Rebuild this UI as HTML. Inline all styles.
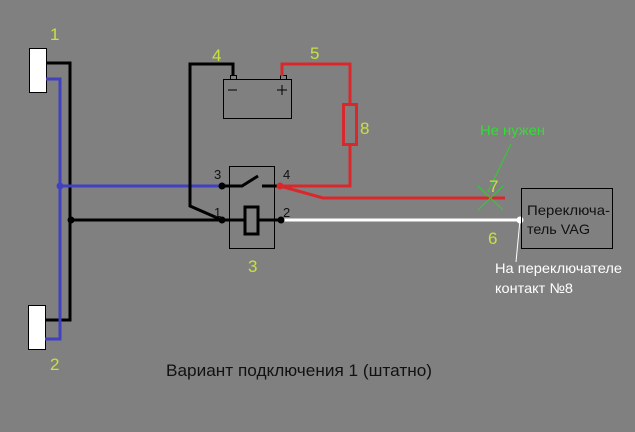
<!DOCTYPE html>
<html><head><meta charset="utf-8"><style>
html,body{margin:0;padding:0;background:#808080;}
svg{display:block;font-family:"Liberation Sans",sans-serif;}
</style></head><body>
<svg width="635" height="432" viewBox="0 0 635 432" xmlns="http://www.w3.org/2000/svg">
<rect width="635" height="432" fill="#808080"/>
<rect x="29.5" y="48.5" width="17" height="44" fill="#fff" stroke="#000"/>
<rect x="28.5" y="305.5" width="17" height="44" fill="#fff" stroke="#000"/>
<polyline points="46,63 70,63 70,320 45,320" fill="none" stroke="#000" stroke-width="3"/>
<polyline points="46,79 60,79 60,339 45,339" fill="none" stroke="#4040c0" stroke-width="3"/>
<line x1="60" y1="186" x2="222" y2="186" stroke="#4040c0" stroke-width="3"/>
<circle cx="60" cy="186" r="3.5" fill="#4040c0"/>
<line x1="70" y1="220" x2="222" y2="220" stroke="#000" stroke-width="3"/>
<circle cx="71" cy="220" r="3.5" fill="#000"/>
<polyline points="222,220 190,206 190,64 233,64 233,76" fill="none" stroke="#000" stroke-width="3"/>
<rect x="223.5" y="79.5" width="68" height="39" fill="none" stroke="#000"/>
<rect x="230.5" y="75.5" width="6" height="4" fill="none" stroke="#000"/>
<rect x="280.5" y="75.5" width="6" height="4" fill="none" stroke="#000"/>
<line x1="228" y1="90" x2="237" y2="90" stroke="#000"/>
<line x1="277" y1="90" x2="287" y2="90" stroke="#000"/>
<line x1="282" y1="85" x2="282" y2="95" stroke="#000"/>
<polyline points="282,76 282,64 350,64 350,104" fill="none" stroke="#d8282c" stroke-width="3"/>
<rect x="343.5" y="104.5" width="13" height="40" fill="none" stroke="#d8282c" stroke-width="3"/>
<polyline points="350,144 350,186 280,186" fill="none" stroke="#d8282c" stroke-width="3"/>
<polyline points="280,186 323,198 505,198" fill="none" stroke="#d8282c" stroke-width="3"/>
<rect x="229.5" y="166.5" width="45" height="82" fill="none" stroke="#000"/>
<polyline points="222,186 242,186 258,176" fill="none" stroke="#000" stroke-width="3"/>
<line x1="262" y1="186" x2="280" y2="186" stroke="#000" stroke-width="3"/>
<line x1="222" y1="220" x2="245" y2="220" stroke="#000" stroke-width="3"/>
<rect x="245" y="207" width="13" height="27" fill="none" stroke="#000" stroke-width="3"/>
<line x1="258" y1="220" x2="280" y2="220" stroke="#000" stroke-width="3"/>
<line x1="280" y1="220" x2="520" y2="220" stroke="#fff" stroke-width="3"/>
<circle cx="222" cy="186" r="3.5" fill="#000"/>
<circle cx="222" cy="220" r="3.5" fill="#000"/>
<circle cx="280" cy="186" r="3.5" fill="#d8282c"/>
<circle cx="281" cy="220" r="3.5" fill="#000"/>
<circle cx="520" cy="220" r="3.5" fill="#fff"/>
<line x1="520" y1="220" x2="516" y2="262" stroke="#fff" stroke-width="1"/>
<rect x="521.5" y="188.5" width="91" height="60" fill="none" stroke="#000"/>
<text x="527" y="215" font-size="14" fill="#111" textLength="83" lengthAdjust="spacingAndGlyphs">Переключа-</text>
<text x="527" y="234" font-size="14" fill="#111" textLength="63" lengthAdjust="spacingAndGlyphs">тель VAG</text>
<line x1="478" y1="186" x2="503" y2="210" stroke="#33cc33" stroke-width="1"/>
<line x1="503" y1="186" x2="478" y2="210" stroke="#33cc33" stroke-width="1"/>
<line x1="488" y1="192" x2="511" y2="144" stroke="#33cc33" stroke-width="1"/>
<text x="480" y="135" font-size="14" fill="#33dd33" textLength="65" lengthAdjust="spacingAndGlyphs">Не нужен</text>
<g fill="#c8e040" font-size="17">
<text x="50" y="40">1</text>
<text x="50" y="370">2</text>
<text x="248" y="272">3</text>
<text x="212" y="61">4</text>
<text x="310" y="59">5</text>
<text x="360" y="134">8</text>
<text x="488" y="244">6</text>
<text x="489" y="192">7</text>
</g>
<g fill="#111" font-size="13">
<text x="214" y="179">3</text>
<text x="214" y="217">1</text>
<text x="283" y="179">4</text>
<text x="283" y="217">2</text>
</g>
<text x="495" y="273" font-size="14" fill="#fff" textLength="127" lengthAdjust="spacingAndGlyphs">На переключателе</text>
<text x="495" y="293" font-size="14" fill="#fff" textLength="78" lengthAdjust="spacingAndGlyphs">контакт №8</text>
<text x="166" y="376" font-size="17" fill="#111" textLength="266" lengthAdjust="spacingAndGlyphs">Вариант подключения 1 (штатно)</text>
</svg>
</body></html>
